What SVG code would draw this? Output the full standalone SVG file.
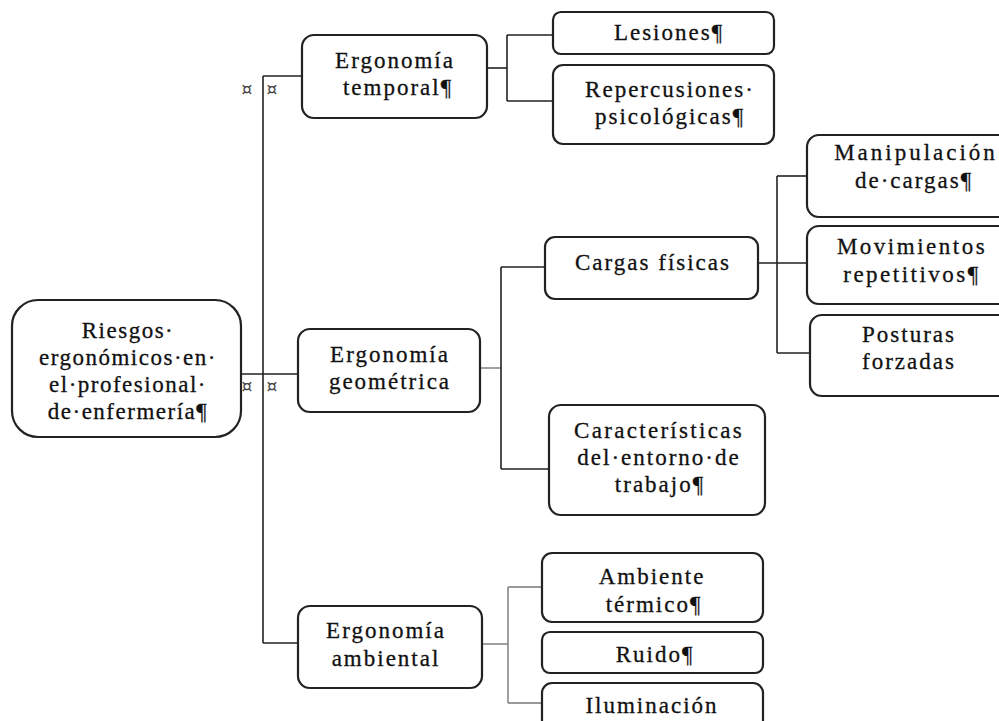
<svg xmlns="http://www.w3.org/2000/svg" width="999" height="721" viewBox="0 0 999 721">
<style>
  .box { fill: #ffffff; stroke: #222222; stroke-width: 2.2; }
  .t { font-family: 'Liberation Serif', 'DejaVu Serif', serif; font-size: 23px; fill: #111111; text-anchor: middle; letter-spacing: 2px; stroke: #111111; stroke-width: 0.3; }
  .ln { fill: none; stroke: #222222; stroke-width: 1.6; }
  .lg { fill: none; stroke: #777777; stroke-width: 1.4; }
  .mk { font-family: 'DejaVu Sans', sans-serif; font-size: 17px; fill: #444444; text-anchor: middle; }
</style>
<rect width="999" height="721" fill="#ffffff"/>

<g id="connectors">
  <path class="ln" d="M263 76 V643"/>
  <path class="ln" d="M263 76 H302"/>
  <path class="ln" d="M241 374 H298"/>
  <path class="ln" d="M263 643 H298"/>
  <path class="ln" d="M487 68 H507"/>
  <path class="ln" d="M507 35 V101"/>
  <path class="ln" d="M507 35 H553"/>
  <path class="ln" d="M507 101 H553"/>
  <path class="lg" d="M480 368 H501"/>
  <path class="ln" d="M501 267 V469"/>
  <path class="ln" d="M501 267 H545"/>
  <path class="ln" d="M501 469 H549"/>
  <path class="ln" d="M758 263 H807"/>
  <path class="ln" d="M777 176 V353"/>
  <path class="ln" d="M777 176 H807"/>
  <path class="ln" d="M777 353 H810"/>
  <path class="lg" d="M482 644 H508"/>
  <path class="lg" d="M508 587 V703"/>
  <path class="lg" d="M508 587 H542"/>
  <path class="lg" d="M508 703 H542"/>
</g>

<g id="marks">
  <text class="mk" x="247" y="95">¤</text>
  <text class="mk" x="272" y="95">¤</text>
  <text class="mk" x="247" y="392">¤</text>
  <text class="mk" x="272" y="392">¤</text>
</g>

<g id="root">
  <rect class="box" x="12" y="300" width="229" height="137" rx="26"/>
  <text class="t" x="128" y="338" style="letter-spacing:1.5px">Riesgos·</text>
  <text class="t" x="128" y="365" style="letter-spacing:1.5px">ergonómicos·en·</text>
  <text class="t" x="128" y="392" style="letter-spacing:1.5px">el·profesional·</text>
  <text class="t" x="128" y="419" style="letter-spacing:1.5px">de·enfermería¶</text>
</g>

<g id="temporal">
  <rect class="box" x="302" y="35" width="185" height="83" rx="12"/>
  <text class="t" x="395" y="68">Ergonomía</text>
  <text class="t" x="398" y="95">temporal¶</text>
</g>

<g id="geometrica">
  <rect class="box" x="298" y="329" width="182" height="83" rx="12"/>
  <text class="t" x="390" y="362">Ergonomía</text>
  <text class="t" x="390" y="389">geométrica</text>
</g>

<g id="ambiental">
  <rect class="box" x="298" y="606" width="184" height="82" rx="12"/>
  <text class="t" x="386" y="638">Ergonomía</text>
  <text class="t" x="386" y="666">ambiental</text>
</g>

<g id="lesiones">
  <rect class="box" x="553" y="12" width="221" height="42" rx="8"/>
  <text class="t" x="669" y="40">Lesiones¶</text>
</g>

<g id="repercusiones">
  <rect class="box" x="553" y="65" width="221" height="79" rx="10"/>
  <text class="t" x="670" y="97">Repercusiones·</text>
  <text class="t" x="670" y="124">psicológicas¶</text>
</g>

<g id="cargas">
  <rect class="box" x="545" y="237" width="213" height="62" rx="10"/>
  <text class="t" x="653" y="270">Cargas físicas</text>
</g>

<g id="caracteristicas">
  <rect class="box" x="549" y="405" width="216" height="110" rx="12"/>
  <text class="t" x="659" y="438" style="letter-spacing:2.3px">Características</text>
  <text class="t" x="659" y="465">del·entorno·de</text>
  <text class="t" x="660" y="492">trabajo¶</text>
</g>

<g id="manipulacion">
  <rect class="box" x="807" y="135" width="210" height="82" rx="12"/>
  <text class="t" x="916" y="160" style="letter-spacing:3px">Manipulación</text>
  <text class="t" x="914" y="188">de·cargas¶</text>
</g>

<g id="movimientos">
  <rect class="box" x="807" y="226" width="210" height="78" rx="12"/>
  <text class="t" x="912" y="254" style="letter-spacing:2.5px">Movimientos</text>
  <text class="t" x="912" y="282" style="letter-spacing:2.5px">repetitivos¶</text>
</g>

<g id="posturas">
  <rect class="box" x="810" y="315" width="207" height="81" rx="12"/>
  <text class="t" x="909" y="342">Posturas</text>
  <text class="t" x="909" y="369">forzadas</text>
</g>

<g id="ambiente">
  <rect class="box" x="542" y="553" width="221" height="69" rx="10"/>
  <text class="t" x="652" y="584">Ambiente</text>
  <text class="t" x="654" y="612">térmico¶</text>
</g>

<g id="ruido">
  <rect class="box" x="542" y="632" width="221" height="41" rx="8"/>
  <text class="t" x="655" y="662">Ruido¶</text>
</g>

<g id="iluminacion">
  <rect class="box" x="542" y="683" width="221" height="60" rx="10"/>
  <text class="t" x="652" y="713">Iluminación</text>
</g>
</svg>
